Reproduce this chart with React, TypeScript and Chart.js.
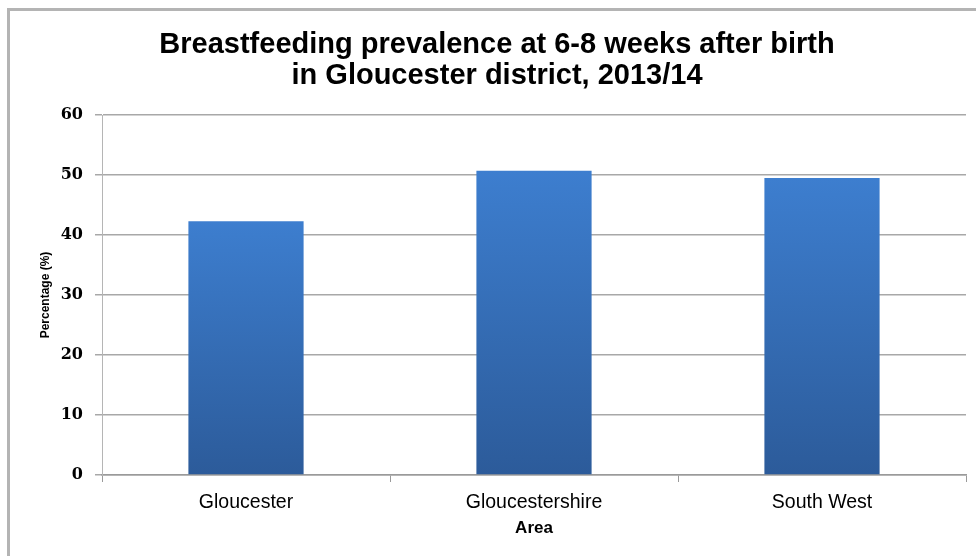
import React, { useEffect, useRef } from "react";
import { Chart, registerables } from "chart.js";

Chart.register(...registerables);

const titleLines = ["Breastfeeding prevalence at 6-8 weeks after birth", "in Gloucester district, 2013/14"];
const categories = ["Gloucester", "Gloucestershire", "South West"];
const prevalence = [42.3, 50.7, 49.5];
const yMin = 0;
const yMax = 60;
const yStep = 10;
const xTitle = "Area";
const yTitle = "Percentage (%)";

const titlePlugin = {
  id: "centredTitle",
  afterDraw(chart: any) {
    const ctx = chart.ctx;
    ctx.save();
    ctx.fillStyle = "#000000";
    ctx.font = "bold 29px 'Liberation Sans', Arial, sans-serif";
    ctx.textAlign = "center";
    ctx.textBaseline = "middle";
    const cx = 497;
    titleLines.forEach((line, i) => {
      ctx.fillText(line, cx, 45 + i * 31);
    });
    ctx.restore();
  },
};

export default function App() {
  const canvasRef = useRef<HTMLCanvasElement | null>(null);

  useEffect(() => {
    const canvas = canvasRef.current;
    if (!canvas) return;
    const chart = new Chart(canvas, {
      type: "bar",
      data: {
        labels: categories,
        datasets: [
          {
            label: "Prevalence",
            data: prevalence,
            barPercentage: 0.4,
            categoryPercentage: 1,
            borderWidth: 0,
            backgroundColor: (ctx: any) => {
              const c = ctx.chart;
              const ys = c.scales && c.scales.y;
              if (!ys || !c.chartArea) return "#3570b8";
              const v = ctx.raw as number;
              const top = ys.getPixelForValue(v);
              const bottom = ys.getPixelForValue(0);
              if (!isFinite(top) || !isFinite(bottom) || top === bottom) return "#3570b8";
              const g = c.ctx.createLinearGradient(0, top, 0, bottom);
              g.addColorStop(0, "#3d7ecf");
              g.addColorStop(1, "#2c5b9a");
              return g;
            },
          },
        ],
      },
      plugins: [titlePlugin],
      options: {
        responsive: false,
        animation: false,
        layout: { padding: { left: 0, right: 10, top: 115, bottom: 0 } },
        plugins: {
          legend: { display: false },
          tooltip: { enabled: false },
          title: { display: false },
        },
        scales: {
          x: {
            offset: true,
            afterFit: (s: any) => {
              s.height = 81;
            },
            grid: {
              display: true,
              offset: true,
              drawOnChartArea: false,
              drawTicks: true,
              tickLength: 7,
              color: "#9a9a9a",
            },
            border: { display: true, color: "#9a9a9a", width: 1.5 },
            ticks: {
              color: "#000000",
              padding: 9,
              font: { family: "'Liberation Sans', Arial, sans-serif", size: 19.5 },
            },
            title: {
              display: true,
              text: xTitle,
              color: "#000000",
              font: { family: "'Liberation Sans', Arial, sans-serif", size: 17, weight: "bold" },
              padding: { top: 0, bottom: 17 },
            },
          },
          y: {
            min: yMin,
            max: yMax,
            afterFit: (s: any) => {
              s.width = 102;
            },
            grid: {
              color: "#a8a8a8",
              lineWidth: 1.5,
              tickLength: 7,
              drawTicks: true,
            },
            border: { display: true, color: "#b5b5b5", width: 1 },
            ticks: {
              stepSize: yStep,
              color: "#000000",
              padding: 12,
              font: { family: "'DejaVu Serif', serif", size: 16, weight: "bold" },
            },
            title: {
              display: true,
              text: yTitle,
              color: "#000000",
              font: { family: "'Liberation Sans', Arial, sans-serif", size: 12, weight: "bold" },
              padding: { top: 38, bottom: 0 },
            },
          },
        },
      },
    });
    return () => chart.destroy();
  }, []);

  return (
    <div style={{ position: "absolute", left: 0, top: 0, width: 976, height: 556, overflow: "hidden", background: "#ffffff" }}>
      <canvas ref={canvasRef} width={976} height={556} style={{ position: "absolute", left: 0, top: 0, width: 976, height: 556 }} />
      <div
        style={{
          position: "absolute",
          left: 7,
          top: 8,
          width: 1000,
          height: 600,
          borderLeft: "3px solid #b4b4b4",
          borderTop: "3px solid #b4b4b4",
          pointerEvents: "none",
        }}
      />
    </div>
  );
}
